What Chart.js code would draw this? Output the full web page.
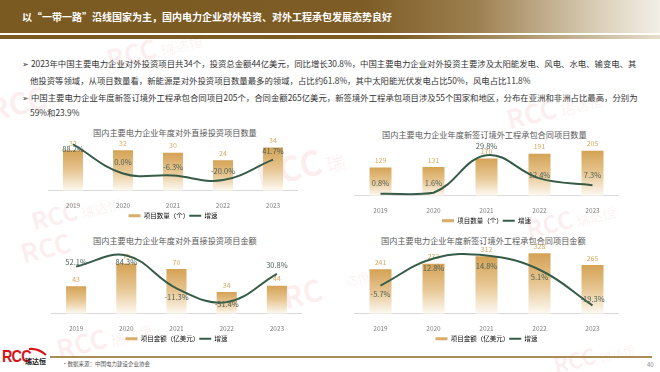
<!DOCTYPE html>
<html>
<head>
<meta charset="utf-8">
<script src="https://cdn.jsdelivr.net/npm/chart.js@4.4.0/dist/chart.umd.min.js"></script>
<style>
  body { margin:0; width:660px; height:372px; position:relative; overflow:hidden; background:#fff;
         font-family:"Noto Sans CJK SC","Noto Sans",sans-serif; }
  .hdr { position:absolute; left:0; top:0; width:660px; height:33px;
         background:linear-gradient(90deg,#7b5a22 0%,#7d5c25 55%,#9c7f4f 72%,#d8ccb4 90%,#f3efe7 100%); }
  .hdr2 { position:absolute; left:0; top:35px; width:660px; height:4px;
          background:linear-gradient(90deg,#7b5a22 0%,#7d5c25 60%,#b09a70 80%,#e6ddcc 100%); }
  .htitle { position:absolute; left:22px; top:9px; color:#fff; font-size:10px; font-weight:bold; white-space:nowrap; }
  .txt { position:absolute; left:22px; font-size:8.4px; color:#333; white-space:nowrap; }
  .ttl { position:absolute; font-size:8.2px; color:#595959; white-space:nowrap; }
  canvas { position:absolute; }
  .wm { position:absolute; color:rgba(228,70,80,0.09); font-weight:bold; white-space:nowrap; transform:rotate(-14deg); }
  .wm span { font-size:0.55em; font-weight:normal; margin-left:4px; }
  .foot { position:absolute; left:50px; top:356px; width:602px; height:2px; background:#a88d58; }
  .src { position:absolute; left:62px; top:360px; font-size:5.5px; color:#555; }
  .pg { position:absolute; left:647px; top:360px; font-size:6px; color:#888; }
  .logo { position:absolute; left:2px; top:347px; font-size:17px; font-weight:900; color:#d7141a; letter-spacing:-1px;
          font-family:"Liberation Sans Narrow","Liberation Sans",sans-serif; transform:scaleX(0.85); transform-origin:left; }
  .logo2 { position:absolute; left:25px; top:356px; font-size:7px; font-weight:bold; color:#222; }
</style>
</head>
<body>
<div class="wm" style="left:105px;top:28px;font-size:26px">RCC<span>瑞达恒</span></div>
<div class="wm" style="left:-12px;top:80px;font-size:30px">RCC</div>
<div class="wm" style="left:505px;top:88px;font-size:26px">RCC<span>瑞达恒</span></div>
<div class="wm" style="left:255px;top:140px;font-size:34px">RCC<span>瑞</span></div>
<div class="wm" style="left:30px;top:192px;font-size:24px">RCC<span>瑞达恒</span></div>
<div class="wm" style="left:525px;top:200px;font-size:24px">RCC<span>瑞达恒</span></div>
<div class="wm" style="left:20px;top:228px;font-size:26px">RCC</div>
<div class="wm" style="left:282px;top:270px;font-size:30px">RC</div>
<div class="wm" style="left:55px;top:318px;font-size:26px">RCC<span>瑞达恒</span></div>
<div class="wm" style="left:340px;top:258px;font-size:22px"><span>达恒</span></div>
<div class="wm" style="left:552px;top:338px;font-size:22px">RCC<span>瑞达恒</span></div>

<div class="hdr"></div>
<div class="hdr2"></div>
<div class="htitle">以“一带一路”沿线国家为主，国内电力企业对外投资、对外工程承包发展态势良好</div>

<div class="txt" style="top:57px">➢ 2023年中国主要电力企业对外投资项目共34个，投资总金额44亿美元，同比增长30.8%，中国主要电力企业对外投资主要涉及太阳能发电、风电、水电、输变电、其</div>
<div class="txt" style="top:74px;left:30px">他投资等领域，从项目数量看，新能源是对外投资项目数量最多的领域，占比约61.8%，其中太阳能光伏发电占比50%，风电占比11.8%</div>
<div class="txt" style="top:91px">➢ 中国主要电力企业年度新签订境外工程承包合同项目205个，合同金额265亿美元，新签境外工程承包项目涉及55个国家和地区，分布在亚洲和非洲占比最高，分别为</div>
<div class="txt" style="top:106px;left:30px">59%和23.9%</div>

<div class="ttl" style="left:93px;top:126px">国内主要电力企业年度对外直接投资项目数量</div>
<div class="ttl" style="left:382px;top:128px">国内主要电力企业年度新签订境外工程承包合同项目数量</div>
<div class="ttl" style="left:93px;top:234px">国内主要电力企业年度对外直接投资项目金额</div>
<div class="ttl" style="left:381px;top:234px">国内主要电力企业年度新签订境外工程承包合同项目金额</div>

<canvas id="c1" width="250" height="99" style="left:48px;top:130px"></canvas>
<canvas id="c2" width="265" height="99" style="left:354px;top:135px"></canvas>
<canvas id="c3" width="251" height="112" style="left:51px;top:240px"></canvas>
<canvas id="c4" width="265" height="112" style="left:354px;top:240px"></canvas>

<div class="foot"></div>
<div class="logo">RCC</div>
<svg style="position:absolute;left:28px;top:347px" width="20" height="9"><path d="M1 2 Q10 1 18 8" stroke="#d7141a" stroke-width="2" fill="none"/></svg>
<div class="logo2">瑞达恒</div>
<div class="src">•数据来源：中国电力建设企业协会</div>
<div class="pg">40</div>

<script>
// 数据
const years = ['2019', '2020', '2021', '2022', '2023'];
const invCount = [32, 32, 30, 24, 34];
const invCountGrowth = [88.2, 0.0, -6.3, -20.0, 41.7];
const contractCount = [129, 131, 170, 191, 205];
const contractCountGrowth = [0.8, 1.6, 29.8, 12.4, 7.3];
const invAmount = [43, 79, 70, 34, 44];
const invAmountGrowth = [52.1, 84.3, -11.3, -51.4, 30.8];
const contractAmount = [241, 272, 312, 328, 265];
const contractAmountGrowth = [-5.7, 12.8, 14.8, 5.1, -19.3];

const FONT = '"Noto Sans CJK SC", "Noto Sans", sans-serif';
const GOLD = '#d8ad6a';
const GREEN = '#365c48';

// bar value labels under the line, growth labels on top
const valueLabels = {
  id: 'valueLabels',
  afterDatasetDraw(chart, args) {
    if (args.index !== 0) return;
    const ctx = chart.ctx;
    ctx.save();
    ctx.font = '7px ' + FONT;
    ctx.fillStyle = '#d9a962';
    ctx.textAlign = 'center';
    ctx.textBaseline = 'middle';
    args.meta.data.forEach((bar, i) => {
      ctx.fillText(chart.data.datasets[0].data[i], bar.x, bar.y - 7);
    });
    ctx.restore();
  },
  afterDatasetsDraw(chart, args, opts) {
    const ctx = chart.ctx;
    const meta = chart.getDatasetMeta(1);
    const dy = opts.dy || [];
    ctx.save();
    ctx.font = '7.5px ' + FONT;
    ctx.fillStyle = '#4e6258';
    ctx.textAlign = 'center';
    ctx.textBaseline = 'middle';
    meta.data.forEach((pt, i) => {
      ctx.fillText(chart.data.datasets[1].data[i].toFixed(1) + '%', pt.x, pt.y + (dy[i] !== undefined ? dy[i] : -9));
    });
    ctx.restore();
  }
};

function makeChart(id, bars, growth, barName, o) {
  return new Chart(document.getElementById(id), {
    type: 'bar',
    data: {
      labels: years,
      datasets: [{
        label: barName,
        data: bars,
        yAxisID: 'y',
        order: 1,
        barPercentage: o.barPct,
        categoryPercentage: 1,
        backgroundColor: function(c) {
          const chart = c.chart;
          if (!chart.chartArea || c.raw === undefined) return GOLD;
          const top = chart.scales.y.getPixelForValue(c.raw);
          const g = chart.ctx.createLinearGradient(0, top, 0, chart.chartArea.bottom);
          g.addColorStop(0, '#d4a255');
          g.addColorStop(0.5, '#e7c692');
          g.addColorStop(1, '#fdf9f2');
          return g;
        }
      }, {
        type: 'line',
        label: '增速',
        data: growth,
        yAxisID: 'y1',
        order: 0,
        borderColor: GREEN,
        borderWidth: 2,
        pointRadius: 0,
        tension: 0.4,
        fill: false
      }]
    },
    options: {
      responsive: false,
      animation: false,
      layout: { padding: { top: o.padTop, left: 0, right: 0, bottom: 0 } },
      scales: {
        x: {
          grid: { display: false },
          border: { color: '#d9d9d9' },
          ticks: { color: '#7f7f7f', font: { size: 6.5, family: FONT }, padding: 3 }
        },
        y: { display: false, min: 0, max: o.yMax },
        y1: { display: false, min: o.gMin, max: o.gMax }
      },
      plugins: {
        tooltip: { enabled: false },
        valueLabels: { dy: o.dy },
        legend: {
          position: 'bottom',
          labels: {
            usePointStyle: true,
            pointStyleWidth: 12,
            boxHeight: 6,
            padding: 0,
            color: '#595959',
            font: { size: 6.5, family: FONT },
            generateLabels: () => [
              { text: barName, pointStyle: 'line', strokeStyle: GOLD, fillStyle: GOLD, lineWidth: 3, datasetIndex: 0 },
              { text: '增速', pointStyle: 'line', strokeStyle: GREEN, fillStyle: GREEN, lineWidth: 2, datasetIndex: 1 }
            ]
          }
        }
      }
    },
    plugins: [valueLabels]
  });
}

makeChart('c1', invCount, invCountGrowth, '项目数量（个）',
  { barPct: 0.4, padTop: 10, yMax: 40, gMin: -52, gMax: 101, dy: [5, -11, -8, -9, -8] });
makeChart('c2', contractCount, contractCountGrowth, '项目数量（个）',
  { barPct: 0.415, padTop: 10, yMax: 231, gMin: -0.6, gMax: 37.4, dy: [-11, -10, -9, -3, -10] });
makeChart('c3', invAmount, invAmountGrowth, '项目金额（亿美元）',
  { barPct: 0.4, padTop: 10, yMax: 100, gMin: -85, gMax: 100, dy: [-4, 7, 9, 2, -9] });
makeChart('c4', contractAmount, contractAmountGrowth, '项目金额（亿美元）',
  { barPct: 0.415, padTop: 8, yMax: 357, gMin: -25, gMax: 20, dy: [9, 10, 11, 7, -6] });
</script>
</body>
</html>
